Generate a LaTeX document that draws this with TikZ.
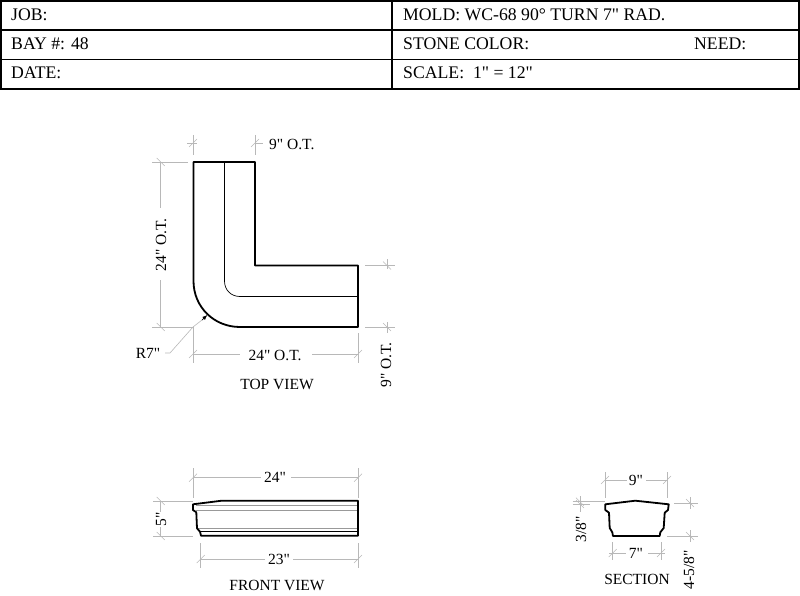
\documentclass[tikz,border=0pt]{standalone}
\usepackage{fontspec}
\newfontfamily\sheetfont{Liberation Serif}
\usetikzlibrary{arrows.meta}
\definecolor{dimgray}{gray}{0.72}
\definecolor{profilegray}{gray}{0.6}
\tikzset{
  sheetline/.style={black,line width=1.8pt},
  outline/.style={black,line width=1.8pt,line join=round},
  thinline/.style={black,line width=0.7pt},
  profileline/.style={profilegray,line width=0.8pt},
  dimline/.style={dimgray,line width=0.6pt},
  label/.style={inner sep=0pt,font=\sheetfont\fontsize{17.7}{20}\selectfont},
  dimlabel/.style={inner sep=0pt,font=\sheetfont\fontsize{15.5}{18}\selectfont},
}
\begin{document}
\begin{tikzpicture}[x=1pt,y=-1pt]
\useasboundingbox (0,0) rectangle (800,596);
% title block
\draw[sheetline] (1,1) rectangle (799,89);
\draw[sheetline] (1,30) -- (799,30);
\draw[sheetline] (1,59.5) -- (799,59.5);
\draw[sheetline] (392,1) -- (392,89);
\node[label,anchor=west] (job) at (11,15) {JOB:};
\node[label,anchor=west] (bay) at (11,44) {BAY \#: 48};
\node[label,anchor=west] (date) at (11,73) {DATE:};
\node[label,anchor=west] (mold) at (403,15) {MOLD: WC-68 90° TURN 7" RAD.};
\node[label,anchor=west] (color) at (403,44) {STONE COLOR:};
\node[label,anchor=west] (need) at (694,44) {NEED:};
\node[label,anchor=west] (scale) at (403,73) {SCALE:\ \ 1" = 12"};

% top view
\draw[outline] (193.5,162) -- (255,162) -- (255,265.5) -- (358,265.5) -- (358,327) -- (240,327)
  .. controls (214,327) and (193.5,307) .. (193.5,281) -- cycle;
\draw[thinline] (224.5,162) -- (224.5,281) .. controls (224.5,290) and (231,296.5) .. (240,296.5) -- (358,296.5);
\draw[dimline] (193,135) -- (193,155) (255,135) -- (255,155) (187,143) -- (197,143) (255,143) -- (263,143);
\draw[dimline] (152,162) -- (188,162) (152,327) -- (193,327) (160.7,162) -- (160.7,208) (160.7,280) -- (160.7,327);
\draw[dimline] (365,265.5) -- (395,265.5) (365,327) -- (395,327) (387,259) -- (387,269) (387,322) -- (387,333);
\draw[dimline] (193,327) -- (193,363) (358,333) -- (358,363) (193,354) -- (240,354) (312,354) -- (358,354);
\foreach \x/\y in {193/143,255/143,193/354,358/354} \draw[dimline] (\x-4,\y+4) -- (\x+4,\y-4);
\foreach \x/\y in {160.7/162,160.7/327,387/265.5,387/327} \draw[dimline] (\x-4,\y-4) -- (\x+4,\y+4);
\draw[dimline] (165,353) -- (170,353) -- (193,327) -- (202,320);
\draw[-{Latex[length=5pt,width=4pt]},black,line width=0.7pt] (202,320) -- (207.3,315);
\node[dimlabel,anchor=west] (topwidth) at (269,144) {9" O.T.};
\node[dimlabel,rotate=90] (topheight) at (161,245) {24" O.T.};
\node[dimlabel,rotate=90] (topleg) at (386,365) {9" O.T.};
\node[dimlabel] (toplength) at (275,355) {24" O.T.};
\node[dimlabel] (radius) at (148,353) {R7"};
\node[dimlabel] (topview) at (277,384) {TOP VIEW};

% front view
\draw[profileline] (196,505) -- (358,505) (196,510) -- (358,510) (197,528.3) -- (358,528.3);
\draw[thinline] (200,531.7) -- (358,531.7);
\draw[outline] (221.7,500.7) -- (358,500.7) -- (358,535.7) -- (201,535.7) -- (200,531.7) -- (197,528.3) -- (196.3,512.3) -- (193,510) -- (193,504.3) -- cycle;
\draw[dimline] (193,468) -- (193,498) (358,468) -- (358,498) (193,477.7) -- (261,477.7) (291,477.7) -- (358,477.7);
\draw[dimline] (153,501) -- (193,501) (153,536) -- (193,536) (160.7,501) -- (160.7,512) (160.7,527) -- (160.7,536);
\draw[dimline] (200.7,543) -- (200.7,568) (358,543) -- (358,568) (200.7,559) -- (265,559) (293,559) -- (358,559);
\foreach \x/\y in {193/477.7,358/477.7,200.7/559,358/559} \draw[dimline] (\x-4,\y+4) -- (\x+4,\y-4);
\foreach \x/\y in {160.7/501,160.7/536} \draw[dimline] (\x-4,\y-4) -- (\x+4,\y+4);
\node[dimlabel] (frontlength) at (275,477) {24"};
\node[dimlabel,rotate=90] (frontheight) at (161,519) {5"};
\node[dimlabel] (frontrun) at (279,559) {23"};
\node[dimlabel] (frontview) at (277,585) {FRONT VIEW};

% section
\draw[outline] (635.3,500.7) -- (668.7,504.3) -- (668,510) -- (664.7,512.7) -- (663.7,528) -- (660.3,532.3) -- (659.7,536)
  -- (613,536) -- (612.3,532.3) -- (609.7,528) -- (609,512.7) -- (605.3,510) -- (605.3,504.3) -- cycle;
\draw[dimline] (605,472) -- (605,498) (667,472) -- (667,498) (605,480) -- (627,480) (646,480) -- (667,480);
\draw[dimline] (572.7,501.7) -- (605,501.7) (572.7,504) -- (590,504) (580,496) -- (580,512);
\draw[dimline] (674,503) -- (698,503) (667,536) -- (698,536) (690,497) -- (690,509) (690,530) -- (690,542);
\draw[dimline] (612.7,542) -- (612.7,560) (661,542) -- (661,560) (609,553) -- (626,553) (648,553) -- (665,553);
\foreach \x/\y in {605/480,667/480,612.7/553,661/553} \draw[dimline] (\x-4,\y+4) -- (\x+4,\y-4);
\foreach \x/\y in {580/501.7,580/504,690/503,690/536} \draw[dimline] (\x-4,\y-4) -- (\x+4,\y+4);
\node[dimlabel] (sectionwidth) at (636,480) {9"};
\node[dimlabel,rotate=90] (sectiontop) at (581,529) {3/8"};
\node[dimlabel,rotate=90] (sectionheight) at (689,570) {4-5/8"};
\node[dimlabel] (sectionbase) at (636,553) {7"};
\node[dimlabel] (sectionview) at (637,579) {SECTION};
\end{tikzpicture}
\end{document}
